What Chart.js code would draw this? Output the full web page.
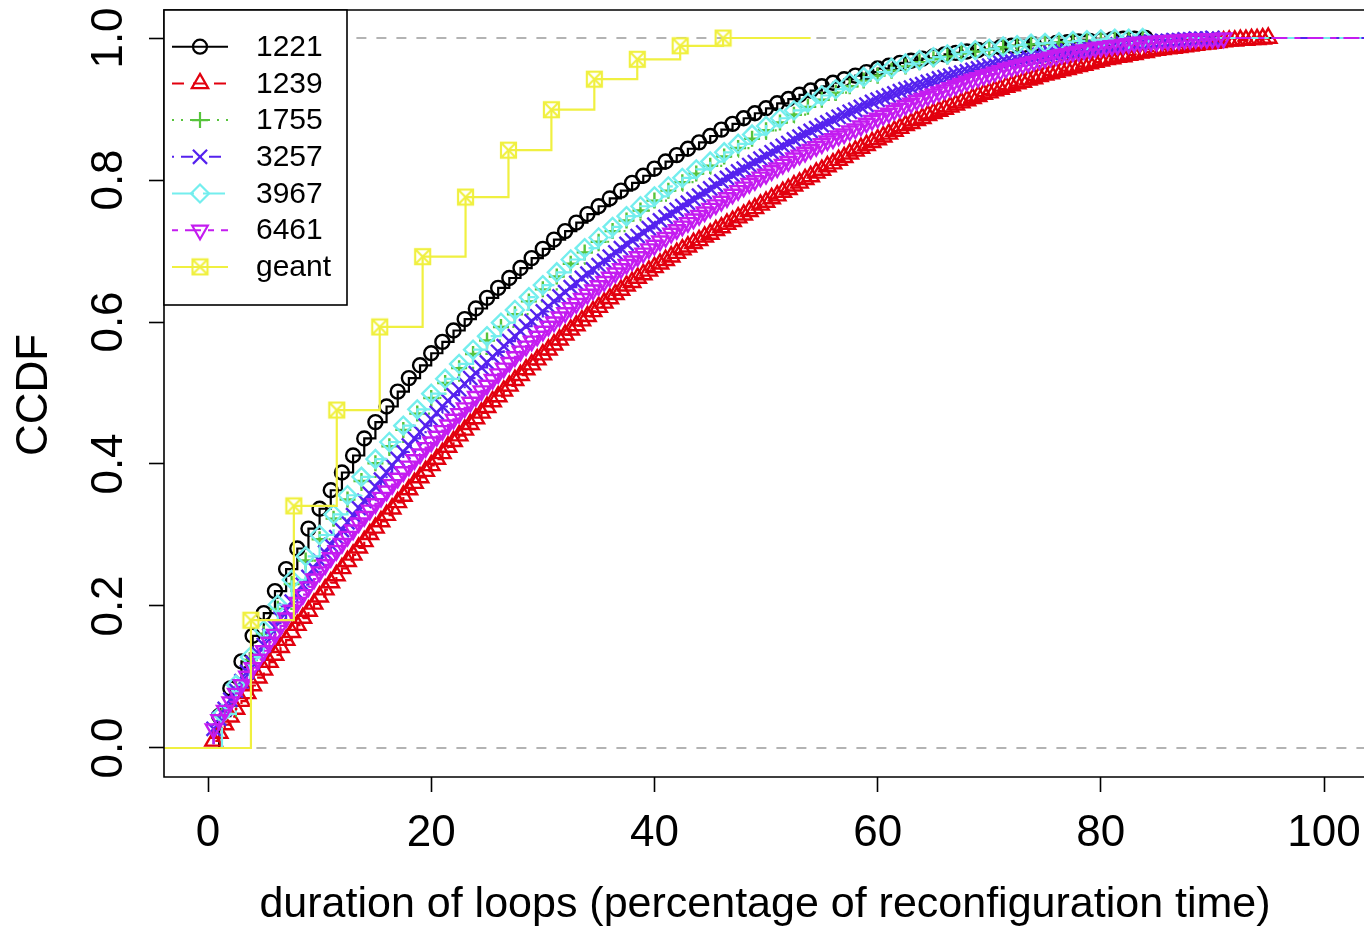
<!DOCTYPE html>
<html>
<head>
<meta charset="utf-8">
<script src="https://cdn.jsdelivr.net/npm/chart.js@4.4.1/dist/chart.umd.min.js"></script>
<style>
  html, body { margin: 0; padding: 0; background: #fff; }
  #wrap { width: 1364px; height: 929px; position: relative; }
</style>
</head>
<body>
<div id="wrap"><canvas id="ccdfChart"></canvas></div>
<script>
// axis ticks
const xTicks = [0, 20, 40, 60, 80, 100];
const xTickLabels = ["0", "20", "40", "60", "80", "100"];
const yTicks = [0, 0.2, 0.4, 0.6, 0.8, 1];
const yTickLabels = ["0.0", "0.2", "0.4", "0.6", "0.8", "1.0"];

const seriesNames = ["1221", "1239", "1755", "3257", "3967", "6461", "geant"];

// x positions of the steps (percent)
const gridUnit = [
  1,2,3,4,5,6,7,8,9,10, 11,12,13,14,15,16,17,18,19,20,
  21,22,23,24,25,26,27,28,29,30, 31,32,33,34,35,36,37,38,39,40,
  41,42,43,44,45,46,47,48,49,50, 51,52,53,54,55,56,57,58,59,60,
  61,62,63,64,65,66,67,68,69,70, 71,72,73,74,75,76,77,78,79,80,
  81,82,83,84
];
const grid125 = [
  1.25,2.5,3.75,5,6.25,7.5,8.75,10,11.25,12.5,
  13.75,15,16.25,17.5,18.75,20,21.25,22.5,23.75,25,
  26.25,27.5,28.75,30,31.25,32.5,33.75,35,36.25,37.5,
  38.75,40,41.25,42.5,43.75,45,46.25,47.5,48.75,50,
  51.25,52.5,53.75,55,56.25,57.5,58.75,60,61.25,62.5,
  63.75,65,66.25,67.5,68.75,70,71.25,72.5,73.75,75,
  76.25,77.5,78.75,80,81.25,82.5,83.75
];
const gridHalf = [
  0.5,1,1.5,2,2.5,3,3.5,4,4.5,5, 5.5,6,6.5,7,7.5,8,8.5,9,9.5,10,
  10.5,11,11.5,12,12.5,13,13.5,14,14.5,15, 15.5,16,16.5,17,17.5,18,18.5,19,19.5,20,
  20.5,21,21.5,22,22.5,23,23.5,24,24.5,25, 25.5,26,26.5,27,27.5,28,28.5,29,29.5,30,
  30.5,31,31.5,32,32.5,33,33.5,34,34.5,35, 35.5,36,36.5,37,37.5,38,38.5,39,39.5,40,
  40.5,41,41.5,42,42.5,43,43.5,44,44.5,45, 45.5,46,46.5,47,47.5,48,48.5,49,49.5,50,
  50.5,51,51.5,52,52.5,53,53.5,54,54.5,55, 55.5,56,56.5,57,57.5,58,58.5,59,59.5,60,
  60.5,61,61.5,62,62.5,63,63.5,64,64.5,65, 65.5,66,66.5,67,67.5,68,68.5,69,69.5,70,
  70.5,71,71.5,72,72.5,73,73.5,74,74.5,75, 75.5,76,76.5,77,77.5,78,78.5,79,79.5,80,
  80.5,81,81.5,82,82.5,83,83.5,84,84.5,85, 85.5,86,86.5,87,87.5,88,88.5,89,89.5,90,
  90.5,91,91.5,92,92.5,93,93.5,94,94.5,95
];
const geantX = [3.846, 7.692, 11.538, 15.385, 19.231, 23.077, 26.923, 30.769, 34.615, 38.462, 42.308, 46.154];

// CCDF values
const cdf1221 = [
  .045,.084,.122,.158,.190,.221,.252,.281,.309,.337,
  .363,.388,.412,.436,.459,.481,.502,.521,.539,.556,
  .572,.588,.604,.619,.634,.648,.662,.676,.690,.703,
  .716,.728,.740,.752,.763,.774,.785,.796,.806,.816,
  .826,.835,.844,.853,.862,.871,.879,.887,.894,.901,
  .908,.914,.920,.926,.932,.937,.942,.947,.952,.957,
  .961,.965,.968,.971,.974,.977,.979,.981,.983,.985,
  .987,.989,.990,.991,.992,.993,.994,.995,.996,.997,
  .998,.999,.999,1
];
const cdf1239 = [
  .010,.021,.033,.044,.055,.066,.077,.088,.099,.110,
  .121,.131,.142,.152,.163,.173,.183,.193,.203,.213,
  .223,.233,.243,.253,.263,.272,.282,.291,.301,.310,
  .319,.328,.337,.346,.355,.364,.373,.381,.390,.398,
  .407,.415,.424,.432,.440,.448,.456,.464,.472,.480,
  .488,.495,.503,.510,.518,.525,.533,.540,.547,.554,
  .561,.568,.575,.582,.589,.595,.602,.608,.615,.621,
  .627,.633,.639,.645,.651,.656,.662,.667,.672,.677,
  .682,.687,.692,.697,.702,.706,.711,.715,.720,.724,
  .729,.733,.738,.742,.747,.751,.756,.760,.765,.769,
  .774,.778,.783,.787,.792,.796,.801,.805,.810,.814,
  .819,.823,.828,.832,.837,.841,.845,.849,.853,.857,
  .861,.865,.869,.873,.877,.880,.884,.887,.891,.894,
  .897,.900,.903,.906,.909,.912,.915,.918,.921,.923,
  .926,.928,.931,.933,.936,.938,.941,.943,.946,.948,
  .950,.952,.954,.956,.958,.960,.962,.964,.966,.968,
  .970,.971,.973,.974,.976,.977,.979,.980,.982,.983,
  .984,.985,.986,.987,.988,.989,.990,.991,.992,.993,
  .994,.995,.996,.996,.997,.997,.998,.998,.999,1
];
const cdf1755 = [
  .045,.085,.124,.161,.196,.231,.264,.294,.323,.350,
  .376,.401,.425,.448,.471,.493,.514,.535,.555,.574,
  .593,.611,.629,.646,.664,.682,.698,.713,.728,.743,
  .757,.771,.785,.797,.809,.820,.833,.845,.858,.870,
  .881,.892,.903,.913,.923,.932,.940,.947,.954,.960,
  .966,.970,.974,.978,.981,.984,.987,.989,.991,.992,
  .994,.995,.996,.997,.998,.999,1
];
const cdf3257 = [
  .027,.041,.055,.068,.081,.094,.107,.120,.133,.145,
  .158,.170,.182,.194,.206,.218,.230,.241,.253,.264,
  .275,.286,.297,.307,.318,.328,.338,.348,.358,.368,
  .378,.388,.398,.407,.417,.426,.436,.445,.454,.463,
  .472,.481,.489,.497,.505,.513,.521,.528,.536,.543,
  .551,.558,.566,.573,.580,.587,.594,.601,.608,.615,
  .622,.629,.636,.642,.649,.655,.662,.668,.674,.680,
  .686,.692,.698,.704,.710,.715,.721,.726,.732,.737,
  .743,.748,.753,.758,.763,.768,.773,.778,.783,.788,
  .793,.798,.803,.807,.812,.816,.821,.825,.830,.834,
  .839,.843,.848,.852,.857,.861,.865,.869,.873,.877,
  .881,.885,.889,.892,.896,.899,.903,.906,.910,.913,
  .916,.919,.922,.925,.928,.930,.933,.935,.938,.940,
  .943,.945,.947,.949,.951,.953,.955,.957,.959,.961,
  .963,.965,.967,.968,.970,.971,.973,.974,.976,.977,
  .979,.980,.981,.982,.983,.984,.985,.986,.987,.988,
  .989,.990,.991,.992,.993,.993,.994,.994,.995,.995,
  .996,.996,.997,.997,.998,.998,.999,.999,.999,1
];
const cdf3967 = [
  .048,.089,.128,.166,.202,.237,.270,.300,.329,.356,
  .382,.407,.431,.454,.477,.499,.520,.541,.561,.580,
  .599,.617,.635,.652,.670,.688,.704,.719,.734,.749,
  .763,.777,.791,.803,.815,.826,.839,.851,.864,.876,
  .887,.898,.909,.919,.928,.937,.945,.952,.958,.964,
  .969,.973,.977,.980,.983,.985,.988,.990,.992,.993,
  .994,.996,.997,.998,.999,.999,1
];
const cdf6461 = [
  .027,.040,.053,.065,.077,.089,.101,.113,.125,.137,
  .149,.160,.172,.183,.194,.205,.216,.227,.238,.248,
  .258,.268,.278,.288,.298,.307,.317,.326,.335,.344,
  .353,.362,.371,.380,.389,.397,.406,.414,.423,.431,
  .439,.447,.455,.463,.471,.479,.487,.495,.503,.511,
  .519,.527,.535,.543,.551,.559,.566,.573,.580,.587,
  .594,.600,.607,.613,.620,.626,.633,.639,.645,.651,
  .657,.663,.669,.675,.681,.686,.692,.697,.703,.708,
  .714,.719,.725,.730,.735,.740,.745,.750,.755,.760,
  .765,.770,.775,.780,.785,.790,.795,.799,.804,.808,
  .813,.817,.822,.826,.831,.835,.839,.843,.847,.851,
  .855,.858,.862,.865,.869,.872,.876,.880,.884,.887,
  .891,.894,.898,.901,.905,.908,.912,.915,.918,.921,
  .924,.927,.930,.933,.936,.939,.942,.944,.947,.949,
  .952,.954,.957,.959,.961,.963,.965,.967,.969,.971,
  .973,.975,.977,.978,.980,.981,.983,.984,.986,.987,
  .988,.989,.990,.991,.992,.993,.994,.994,.995,.995,
  .996,.996,.997,.997,.998,.998,.999,.999,.999,.999,
  .999,1
];
const cdfGeant = [.180, .341, .476, .593, .692, .776, .842, .899, .942, .970, .989, 1];

const seriesX = [gridUnit, gridHalf, grid125, gridHalf, grid125, gridHalf, geantX];
const seriesY = [cdf1221, cdf1239, cdf1755, cdf3257, cdf3967, cdf6461, cdfGeant];
const tailEnds = [120, 120, 120, 120, 120, 120, 54];

// styles
const colors = ["#000000", "#e2000e", "#57c43c", "#5522ee", "#74eeee", "#c41cf0", "#f0f040"];
const dashes = [[], [12, 9], [2, 7], [2, 7, 12, 7], [22, 9], [6, 7, 16, 7], []];
const radii = [7, 9.5, 8, 10, 9, 9, 9];
const rotations = [0, 0, 0, 0, 0, 180, 0];

// pch 7 style marker (square with a cross)
const squareX = document.createElement("canvas");
squareX.width = 19;
squareX.height = 19;
(function () {
  const g = squareX.getContext("2d");
  g.strokeStyle = colors[6];
  g.lineWidth = 2.2;
  g.strokeRect(2, 2, 15, 15);
  g.beginPath();
  g.moveTo(2, 2); g.lineTo(17, 17);
  g.moveTo(17, 2); g.lineTo(2, 17);
  g.stroke();
})();
const pointStyles = ["circle", "triangle", "cross", "crossRot", "rectRot", "triangle", squareX];

function ecdfPoints(xs, ys, tail) {
  const pts = [{ x: -10, y: 0, ext: true }];
  ys.forEach((y, i) => pts.push({ x: xs[i], y: y }));
  pts.push({ x: tail, y: 1, ext: true });
  return pts;
}

const datasets = seriesNames.map((name, i) => ({
  label: name,
  data: ecdfPoints(seriesX[i], seriesY[i], tailEnds[i]),
  stepped: "before",
  borderColor: colors[i],
  borderWidth: 2.2,
  borderDash: dashes[i],
  fill: false,
  pointStyle: pointStyles[i],
  pointRotation: rotations[i],
  pointRadius: ctx => (ctx.raw && ctx.raw.ext) ? 0 : radii[i],
  pointBorderColor: colors[i],
  pointBackgroundColor: "rgba(0,0,0,0)",
  pointBorderWidth: 2.4,
  order: 10 - i
}));

// dashed reference lines at 0 and 1, drawn just above the first curve
[0, 1].forEach(level => {
  datasets.push({
    label: "ref" + level,
    data: [{ x: -10, y: level }, { x: 120, y: level }],
    borderColor: "#b3b3b3",
    borderWidth: 2,
    borderDash: [10, 10],
    pointRadius: 0,
    fill: false,
    order: 9.5
  });
});

const FONT = '"Liberation Sans", Arial, sans-serif';

const decorPlugin = {
  id: "decor",
  afterDraw(chart) {
    const ctx = chart.ctx;
    const area = chart.chartArea;
    const xs = chart.scales.x;
    const ys = chart.scales.y;

    ctx.save();
    // plot frame
    ctx.strokeStyle = "#000";
    ctx.lineWidth = 1.6;
    ctx.setLineDash([]);
    ctx.beginPath();
    ctx.moveTo(chart.width, area.top);
    ctx.lineTo(area.left, area.top);
    ctx.lineTo(area.left, area.bottom);
    ctx.lineTo(chart.width, area.bottom);
    ctx.stroke();

    // tick labels
    ctx.fillStyle = "#000";
    ctx.font = "44px " + FONT;
    ctx.textAlign = "center";
    ctx.textBaseline = "alphabetic";
    xTicks.forEach((v, i) => {
      ctx.fillText(xTickLabels[i], xs.getPixelForValue(v), 846);
    });
    yTicks.forEach((v, i) => {
      ctx.save();
      ctx.translate(122, ys.getPixelForValue(v));
      ctx.rotate(-Math.PI / 2);
      ctx.fillText(yTickLabels[i], 0, 0);
      ctx.restore();
    });

    // axis titles
    ctx.font = "43px " + FONT;
    ctx.fillText("duration of loops (percentage of reconfiguration time)", 765, 917);
    ctx.save();
    ctx.translate(47, 395);
    ctx.rotate(-Math.PI / 2);
    ctx.font = "44px " + FONT;
    ctx.fillText("CCDF", 0, 0);
    ctx.restore();

    // legend
    const lx = area.left, ly = area.top, lw = 183, lh = 295;
    ctx.fillStyle = "#fff";
    ctx.fillRect(lx, ly, lw, lh);
    ctx.strokeStyle = "#000";
    ctx.lineWidth = 1.6;
    ctx.strokeRect(lx, ly, lw, lh);
    ctx.font = "30px " + FONT;
    ctx.textAlign = "left";
    ctx.textBaseline = "middle";
    seriesNames.forEach((name, i) => {
      const y = ly + 36.7 + 36.7 * i;
      ctx.strokeStyle = colors[i];
      ctx.lineWidth = 2;
      ctx.setLineDash(dashes[i]);
      ctx.beginPath();
      ctx.moveTo(lx + 8, y);
      ctx.lineTo(lx + 64, y);
      ctx.stroke();
      ctx.setLineDash([]);
      ctx.lineWidth = 2.2;
      ctx.fillStyle = "rgba(0,0,0,0)";
      Chart.helpers.drawPoint(ctx, {
        pointStyle: pointStyles[i],
        rotation: rotations[i],
        radius: radii[i],
        borderWidth: 2.2
      }, lx + 36, y);
      ctx.fillStyle = "#000";
      ctx.fillText(name, lx + 92, y + 1);
    });
    ctx.restore();
  }
};

const axisGrid = {
  display: true,
  drawOnChartArea: false,
  drawTicks: true,
  tickLength: 15,
  tickColor: "#000",
  tickWidth: 1.6
};

new Chart(document.getElementById("ccdfChart"), {
  type: "line",
  data: { datasets: datasets },
  options: {
    responsive: true,
    maintainAspectRatio: false,
    animation: false,
    events: [],
    layout: { padding: { top: 10, right: 0, bottom: 0, left: 0 } },
    plugins: {
      legend: { display: false },
      tooltip: { enabled: false }
    },
    scales: {
      x: {
        type: "linear",
        min: -3.943,
        max: 103.58,
        afterBuildTicks: s => { s.ticks = xTicks.map(v => ({ value: v })); },
        afterFit: s => { s.height = 152; },
        ticks: { display: false },
        grid: axisGrid,
        border: { display: false }
      },
      y: {
        type: "linear",
        min: -0.04085,
        max: 1.03944,
        afterBuildTicks: s => { s.ticks = yTicks.map(v => ({ value: v })); },
        afterFit: s => { s.width = 164; },
        ticks: { display: false },
        grid: axisGrid,
        border: { display: false }
      }
    }
  },
  plugins: [decorPlugin]
});
</script>
</body>
</html>
